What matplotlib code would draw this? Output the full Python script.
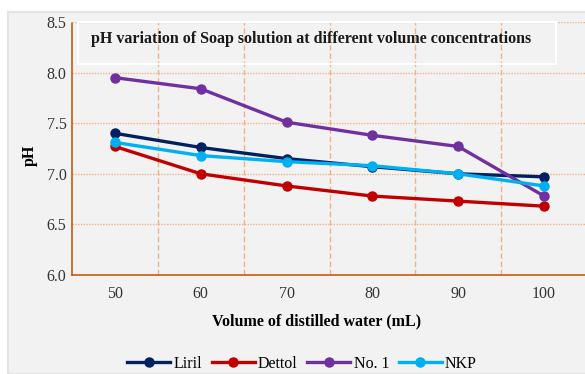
import matplotlib
matplotlib.use("Agg")
import matplotlib.pyplot as plt
from matplotlib.patches import Rectangle

volumes = [50, 60, 70, 80, 90, 100]
liril = [7.40, 7.26, 7.15, 7.07, 7.00, 6.97]
dettol = [7.27, 7.00, 6.88, 6.78, 6.73, 6.68]
no1 = [7.95, 7.84, 7.51, 7.38, 7.27, 6.78]
nkp = [7.31, 7.18, 7.12, 7.08, 7.00, 6.88]
series_names = ["Liril", "Dettol", "No. 1", "NKP"]
colors = ["#002060", "#c00000", "#7030a0", "#00b0f0"]
yticks = [6.0, 6.5, 7.0, 7.5, 8.0, 8.5]
title = "pH variation of Soap solution at different volume concentrations"

plt.rcParams['font.family'] = ['Liberation Serif', 'DejaVu Serif']

fig = plt.figure(figsize=(5.85, 3.74), dpi=100)
bg = "#f2f2f2"
fig.patches.append(Rectangle((8/585, 0), 1, 1 - 12/374, transform=fig.transFigure,
                             facecolor=bg, edgecolor="#e4e4e4", lw=1.5, zorder=-10))

ax = fig.add_axes([72/585, 1 - 275/374, (587-72)/585, (275-22)/374])
ax.set_zorder(2)
ax.set_facecolor(bg)
ax.set_xlim(45, 105)
ax.set_ylim(6.0, 8.5)

# grid
grid_c = "#f4b183"
for yv in yticks[1:]:
    ax.axhline(yv, color=grid_c, lw=1, ls=(0, (1, 1)), zorder=1)
for xv in [55, 65, 75, 85, 95]:
    ax.axvline(xv, color=grid_c, lw=1, ls=(0, (4, 2)), zorder=1)

for s in ["top", "right"]:
    ax.spines[s].set_visible(False)
for s in ["left", "bottom"]:
    ax.spines[s].set_color("#c55a11")
    ax.spines[s].set_linestyle((0, (1, 1)))
    ax.spines[s].set_linewidth(1.2)

for vals, name, c in zip([liril, dettol, no1, nkp], series_names, colors):
    ax.plot(volumes, vals, color=c, lw=2.4, marker="o", markersize=6.5,
            label=name, zorder=3)

ax.set_xticks(volumes)
ax.set_xticklabels([str(v) for v in volumes], fontsize=11.5, color="#333333")
ax.set_yticks(yticks)
ax.set_yticklabels([f"{v:.1f}" for v in yticks], fontsize=11.5, color="#333333")
ax.tick_params(axis="y", length=0, pad=4)
ax.tick_params(axis="x", length=0, pad=8)

ax.set_xlabel("Volume of distilled water (mL)", fontsize=11.5, fontweight="bold")
ax.set_ylabel("pH", fontsize=11.5, fontweight="bold")
ax.xaxis.set_label_coords((317-72)/(587-72), -(313-275)/(275-22))
ax.yaxis.set_label_coords((38-72)/(587-72), (275-155)/(275-22))

box = Rectangle((78/585, 1 - 64/374), (556-78)/585, (64-22)/374, transform=fig.transFigure,
                facecolor="none", edgecolor="white", lw=1.5, zorder=5)
fig.patches.append(box)
fig.text(311/585, 1 - 39/374, title, ha="center", va="center", fontsize=11.5,
         fontweight="bold", color="#1a1a1a", zorder=6)

leg = fig.legend(loc="center", bbox_to_anchor=(302/585, 1 - 364/374), ncol=4,
                 frameon=False, fontsize=11.5, handlelength=2.7, columnspacing=0.6,
                 handletextpad=0.2)

fig.savefig("out.png", dpi=100, facecolor="white")
